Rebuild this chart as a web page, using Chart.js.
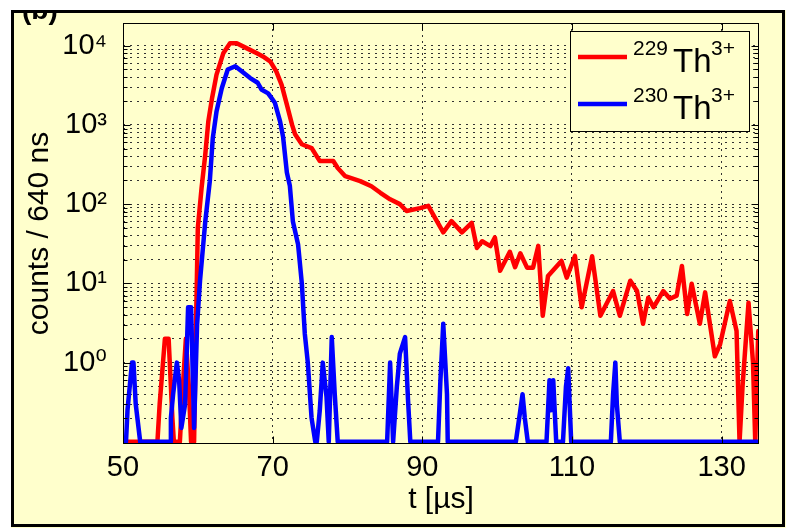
<!DOCTYPE html>
<html><head><meta charset="utf-8">
<script src="https://cdn.jsdelivr.net/npm/chart.js@4.4.1/dist/chart.umd.min.js"></script>
<style>html,body{margin:0;padding:0;background:#fff;}canvas{display:block;}</style>
</head><body>
<canvas id="c" width="786" height="528"></canvas>
<script>
// ---- data (time in microseconds, counts per 640 ns bin; 0 = empty bin) ----
const tRed = [50.0, 54.6, 54.9, 55.6, 56.1, 56.6, 56.8, 57.6, 58.0, 58.4, 58.8, 59.1, 59.5, 59.8, 60.0, 60.5, 61.0, 61.4, 61.9, 62.5,
  63.4, 64.3, 65.2, 66.5, 67.9, 68.7, 69.7, 70.5, 71.2, 71.9, 72.6, 73.0, 73.9, 75.2, 75.9, 76.3, 78.1, 78.7, 79.7, 81.7,
  83.2, 84.4, 85.7, 87.0, 87.9, 89.7, 90.8, 91.7, 92.8, 93.9, 95.3, 96.6, 97.3, 98.0, 99.1, 99.7, 100.4, 101.7, 102.4, 103.1,
  104.0, 104.8, 105.5, 106.1, 106.8, 108.6, 109.3, 110.4, 111.3, 112.7, 113.8, 115.5, 116.4, 117.8, 118.7, 119.5, 120.2, 120.9, 122.2, 123.1,
  124.0, 124.7, 125.4, 126.0, 127.1, 127.8, 129.1, 129.8, 131.1, 132.0, 132.4, 132.8, 133.6, 134.2, 134.5, 134.9, 135];
const countsRed = [0, 0, 0.3, 2, 2, 0.2, 0, 0, 0.5, 2, 0.5, 0, 0, 5, 50, 160, 426, 1100, 2170, 4300,
  8000, 10700, 10700, 9300, 8000, 7300, 6300, 4700, 3200, 1800, 1000, 760, 570, 510, 400, 350, 350, 285, 225, 195,
  168, 139, 115, 100, 82, 89, 95, 67, 44, 61, 44, 58, 28, 34, 29.5, 38, 14.4, 25, 16, 24,
  15.8, 15.8, 29.7, 3.9, 12.4, 19.2, 11.8, 22.2, 5, 22, 3.9, 8, 3.9, 10.8, 8, 3.1, 6.6, 5, 8, 6.4,
  7, 16.6, 4.1, 9.9, 3.1, 7.7, 1.2, 1.7, 6, 2.5, 0, 0.5, 5.7, 1, 0, 2.5, 2.5];

const tBlue = [50.0, 50.4, 50.6, 51.2, 51.4, 51.7, 52.3, 56.3, 56.4, 56.7, 57.2, 57.5, 57.8, 58.3, 58.7, 59.1, 59.5, 59.9, 60.3, 61.0,
  61.6, 62.0, 62.5, 63.2, 64.0, 65.0, 65.9, 67.0, 68.0, 68.5, 69.4, 70.3, 71.0, 71.4, 71.9, 72.3, 72.7, 73.4, 73.9, 74.3,
  74.7, 75.2, 75.7, 75.9, 76.3, 76.7, 77.2, 77.5, 77.9, 78.3, 78.7, 85.3, 85.7, 86.1, 86.6, 87.0, 87.7, 88.1, 88.4, 92.1,
  92.4, 92.8, 93.3, 93.4, 102.5, 103.1, 103.4, 103.7, 104.1, 106.6, 107.0, 107.2, 107.5, 107.9, 108.8, 109.2, 109.5, 109.9, 115.2, 115.5,
  115.8, 116.0, 116.4, 135];
const countsBlue = [0, 0, 0.25, 1.0, 1.0, 0.3, 0, 0, 0.2, 0.4, 1.0, 0.6, 0.15, 0.3, 5, 5, 0.15, 3, 11, 61,
  195, 680, 1480, 2900, 5000, 5500, 4700, 3900, 3400, 2800, 2500, 1900, 1100, 700, 250, 170, 61, 31, 10, 2.3,
  1.0, 0.2, 0, 0, 0.25, 1.0, 0.37, 0, 2.1, 0.4, 0, 0, 1.0, 0, 0.5, 1.3, 2.1, 0.33, 0, 0,
  0.54, 3.1, 0.4, 0, 0, 0.25, 0.4, 0.2, 0, 0, 0.6, 0.25, 0.6, 0, 0, 0.5, 0.85, 0, 0, 0.4,
  1.0, 0.3, 0, 0];

const xTickValues = [50, 70, 90, 110, 130];
const yMajorValues = [1, 10, 100, 1000, 10000];
const yMajorLabels = ['10\u2070', '10\u00b9', '10\u00b2', '10\u00b3', '10\u2074'];
const seriesLabels = ['\u00b2\u00b2\u2079Th\u00b3\u207a', '\u00b2\u00b3\u2070Th\u00b3\u207a'];
const legendParts = [['229', 'Th', '3+'], ['230', 'Th', '3+']];
const xTitle = 't [\u00b5s]';
const yTitle = 'counts / 640 ns';
const panelLabel = '(b)';

// ---- styling ----
const X_MIN = 50, X_MAX = 135, Y_MIN = 0.094, Y_MAX = 19300, ZERO_LEVEL = 0.1;
const BG = '#ffffcc';
const FONT = '"Liberation Sans", Arial, Helvetica, "DejaVu Sans", sans-serif';

function toPoints(ts, vs) { return ts.map((t, i) => ({ x: t, y: vs[i] > 0 ? vs[i] : ZERO_LEVEL })); }
const yGridValues = [];
for (let e = -1; e <= 4; e++) {
  for (let m = 1; m <= 9; m++) {
    const v = m * Math.pow(10, e);
    if (v > Y_MIN * 1.5 && v < Y_MAX) yGridValues.push(v);
  }
}
function majorIndex(v) {
  for (let i = 0; i < yMajorValues.length; i++) if (Math.abs(v - yMajorValues[i]) < 1e-6 * yMajorValues[i]) return i;
  return -1;
}

const decor = {
  id: 'decor',
  beforeDraw(chart) {
    const ctx = chart.ctx, W = chart.width, H = chart.height;
    ctx.save();
    ctx.fillStyle = '#fff'; ctx.fillRect(0, 0, W, H);
    ctx.fillStyle = BG; ctx.fillRect(11, 10, W - 11, H - 10);
    ctx.save();
    ctx.beginPath(); ctx.rect(11, 10, W - 11, H - 10); ctx.clip();
    ctx.fillStyle = '#000'; ctx.font = 'bold 28px ' + FONT; ctx.textBaseline = 'alphabetic';
    ctx.fillText(panelLabel, 22, 19);
    ctx.restore();
    ctx.strokeStyle = '#000'; ctx.lineWidth = 3;
    ctx.strokeRect(12.5, 11.5, 771, 514);
    ctx.restore();
  },
  afterDraw(chart) {
    const ctx = chart.ctx, a = chart.chartArea, xs = chart.scales.x, ys = chart.scales.y;
    ctx.save();
    ctx.strokeStyle = '#000'; ctx.lineWidth = 1;
    const L = Math.round(a.left) + 0.5, R = Math.round(a.right) - 0.5, T = Math.round(a.top) + 0.5, B = Math.round(a.bottom) - 0.5;
    ctx.strokeRect(L, T, R - L, B - T);
    ctx.beginPath();
    yGridValues.forEach(v => {
      const py = Math.round(ys.getPixelForValue(v)) + 0.5;
      const len = majorIndex(v) >= 0 ? 7 : 4;
      ctx.moveTo(L, py); ctx.lineTo(L + len, py);
      ctx.moveTo(R, py); ctx.lineTo(R - len, py);
    });
    xTickValues.forEach(v => {
      const px = Math.round(xs.getPixelForValue(v)) + 0.5;
      ctx.moveTo(px, B); ctx.lineTo(px, B - 7);
      ctx.moveTo(px, T); ctx.lineTo(px, T + 7);
    });
    ctx.stroke();
    // legend box inside the plot
    const lx = 570, ly = 31, lw = 179, lh = 100;
    ctx.fillStyle = BG; ctx.fillRect(lx, ly, lw, lh);
    ctx.strokeStyle = '#000'; ctx.lineWidth = 1; ctx.strokeRect(lx + 0.5, ly + 0.5, lw, lh);
    chart.data.datasets.forEach((ds, i) => {
      const cy = ly + 26 + i * 47;
      ctx.strokeStyle = ds.borderColor; ctx.lineWidth = 4.5; ctx.lineCap = 'butt';
      ctx.beginPath(); ctx.moveTo(lx + 8, cy); ctx.lineTo(lx + 57, cy); ctx.stroke();
      const p = legendParts[i];
      ctx.fillStyle = '#000'; ctx.textBaseline = 'alphabetic'; ctx.textAlign = 'left';
      ctx.font = '21px ' + FONT; ctx.fillText(p[0], lx + 63, cy - 2);
      ctx.font = '33px ' + FONT; ctx.fillText(p[1], lx + 103, cy + 15);
      ctx.font = '21px ' + FONT; ctx.fillText(p[2], lx + 141, cy - 2);
    });
    ctx.restore();
  }
};

new Chart(document.getElementById('c'), {
  type: 'line',
  data: {
    datasets: [
      { label: seriesLabels[0], data: toPoints(tRed, countsRed), borderColor: '#ff0000', borderWidth: 4.5,
        pointRadius: 0, tension: 0, borderJoinStyle: 'round', borderCapStyle: 'round', order: 1 },
      { label: seriesLabels[1], data: toPoints(tBlue, countsBlue), borderColor: '#0000ff', borderWidth: 4.5,
        pointRadius: 0, tension: 0, borderJoinStyle: 'round', borderCapStyle: 'round', order: 0 }
    ]
  },
  options: {
    responsive: false, animation: false, devicePixelRatio: 1,
    layout: { padding: { left: 0, top: 23, right: 27, bottom: 0 } },
    plugins: { legend: { display: false }, tooltip: { enabled: false } },
    scales: {
      x: {
        type: 'linear', min: X_MIN, max: X_MAX,
        afterBuildTicks: s => { s.ticks = xTickValues.map(v => ({ value: v })); },
        afterFit: s => { s.height = 84; s.paddingLeft = 0; s.paddingRight = 0; },
        ticks: { font: { family: FONT, size: 29 }, color: '#000', padding: 7, maxRotation: 0, autoSkip: false,
          callback: v => String(v) },
        grid: { color: '#333', lineWidth: 1, drawTicks: false },
        border: { display: false, dash: [2, 4] },
        title: { display: true, text: xTitle, font: { family: FONT, size: 30 }, color: '#000', padding: { top: 0, bottom: 10 } }
      },
      y: {
        type: 'logarithmic', min: Y_MIN, max: Y_MAX,
        afterBuildTicks: s => { s.ticks = yGridValues.map(v => ({ value: v })); },
        afterFit: s => { s.width = 123; s.paddingTop = 0; s.paddingBottom = 0; },
        ticks: { font: { family: FONT, size: 29 }, color: '#000', padding: 16, autoSkip: false,
          callback: v => { const k = majorIndex(v); return k >= 0 ? yMajorLabels[k] : ''; } },
        grid: { color: '#333', lineWidth: 1, drawTicks: false },
        border: { display: false, dash: [2, 5] },
        title: { display: true, text: yTitle, font: { family: FONT, size: 30 }, color: '#000', padding: { top: 22, bottom: 0 } }
      }
    }
  },
  plugins: [decor]
});
</script>
</body></html>
